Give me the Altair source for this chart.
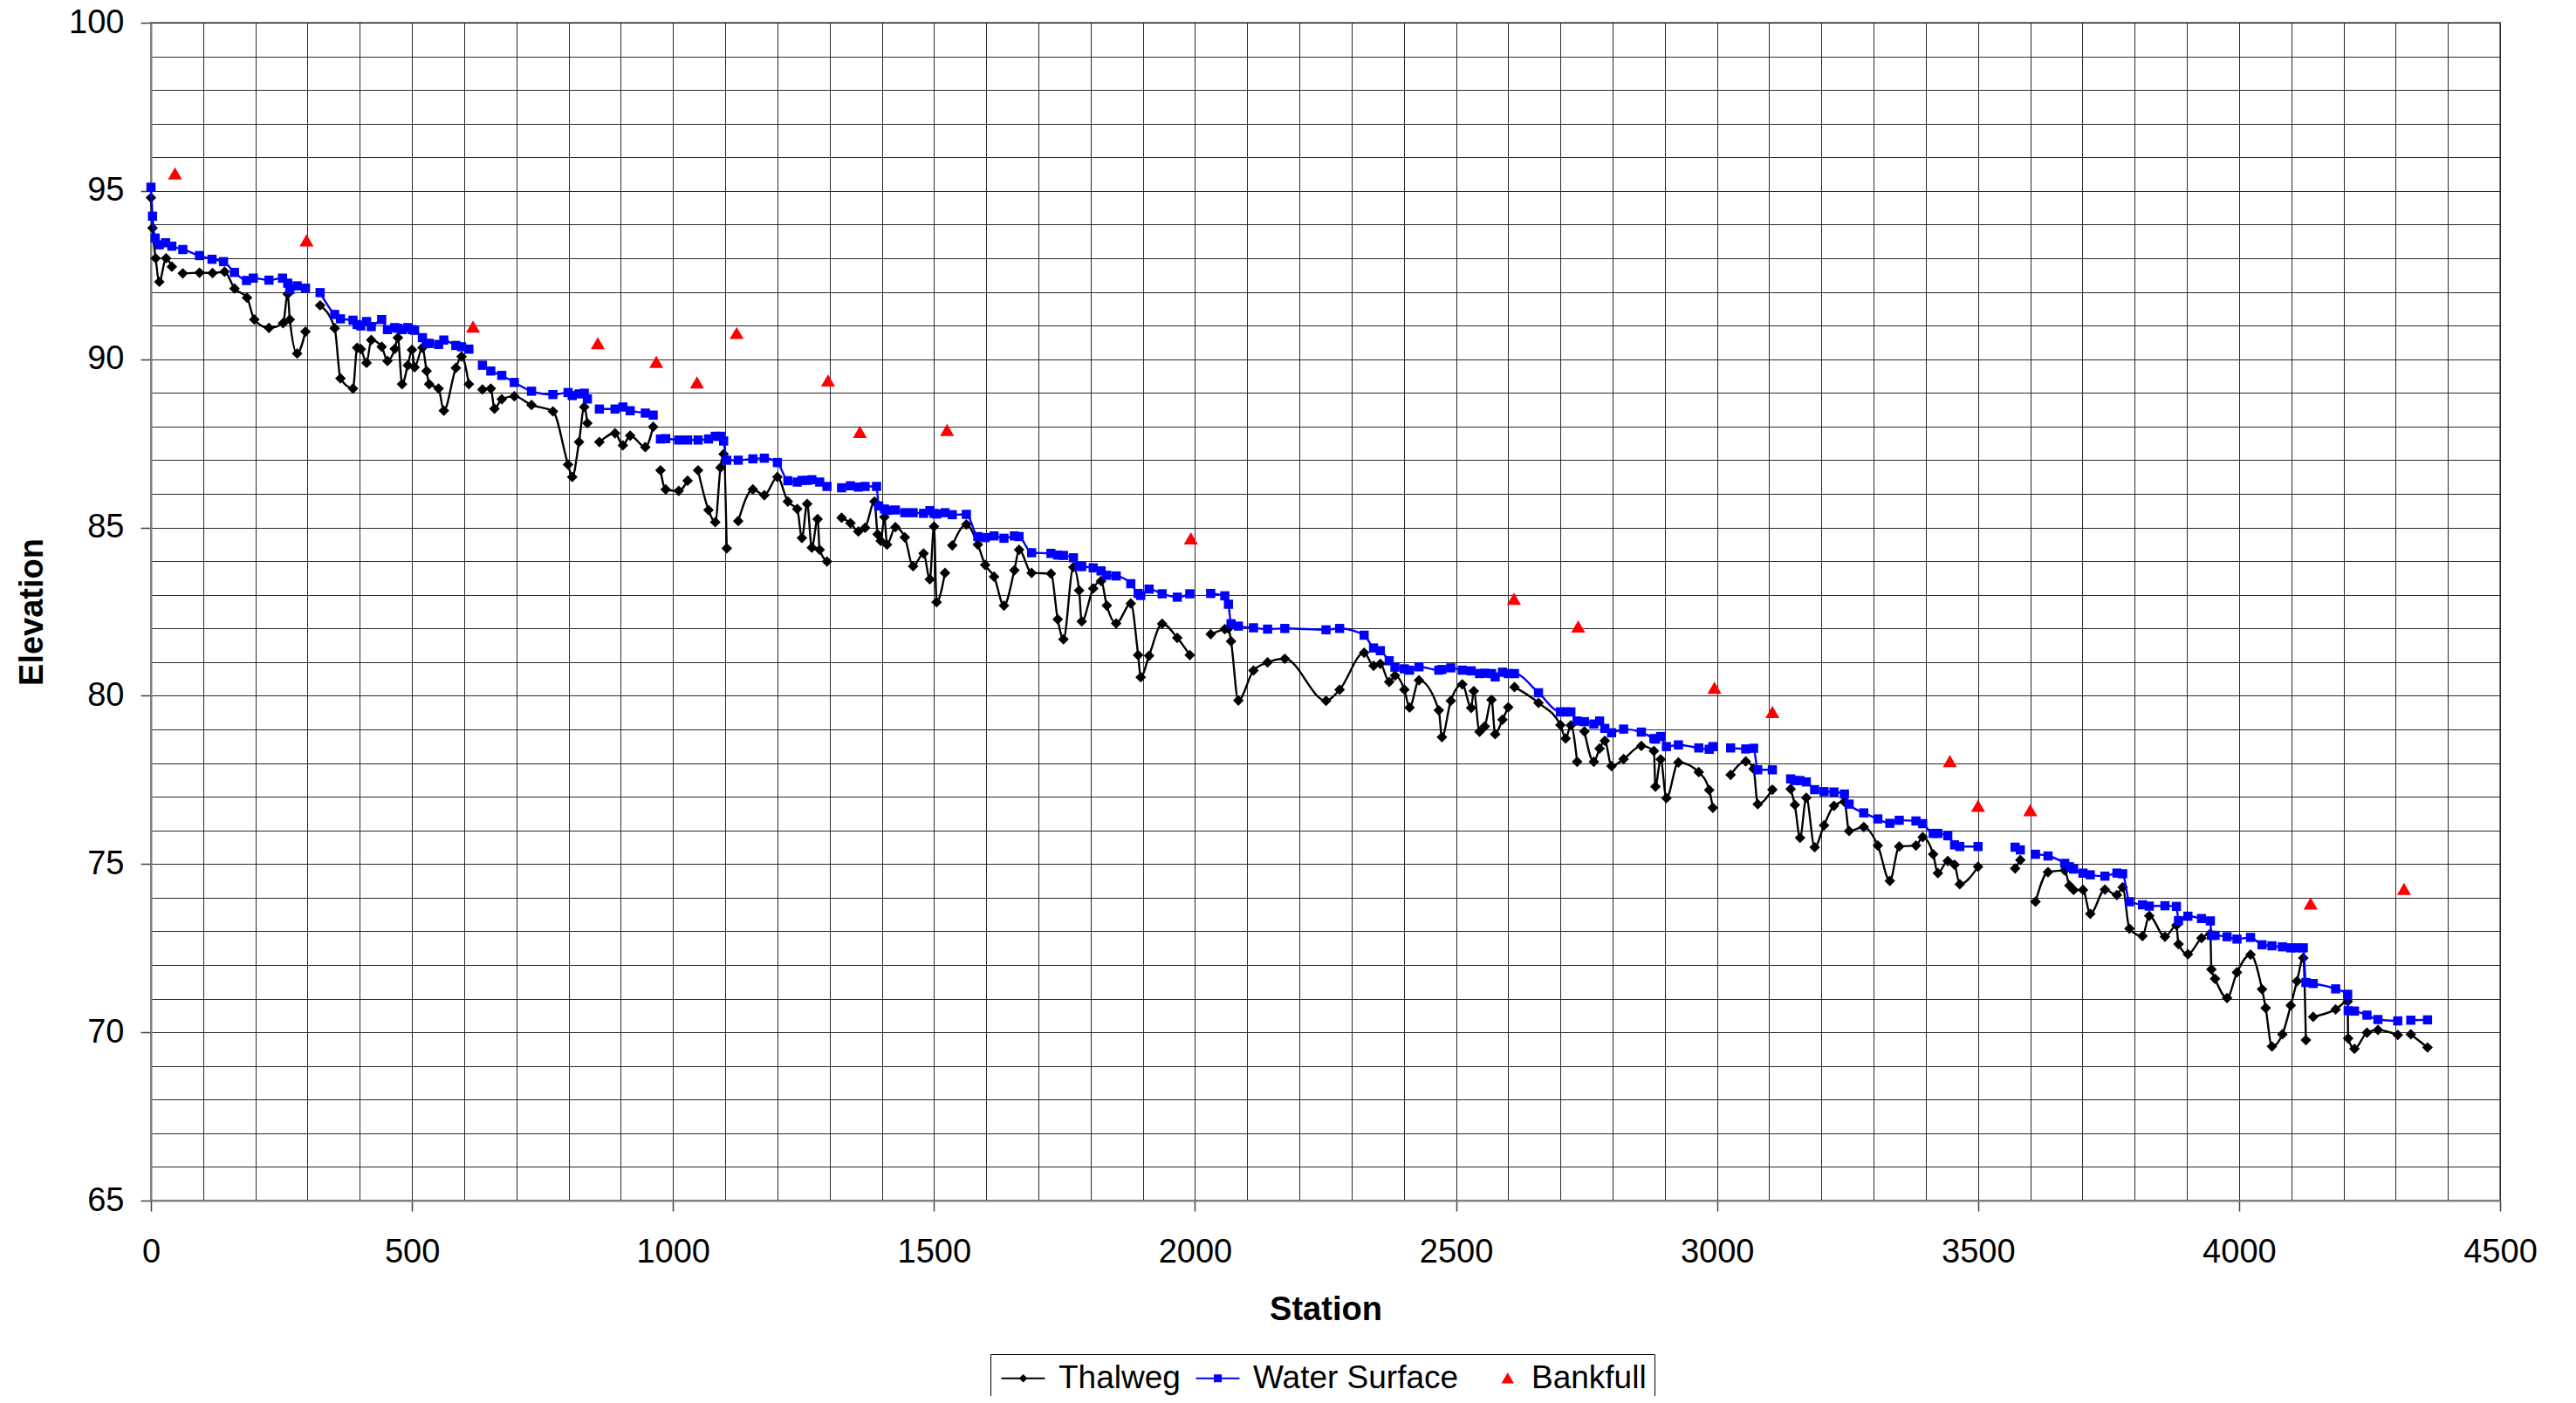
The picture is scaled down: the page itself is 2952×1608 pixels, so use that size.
import altair as alt
import pandas as pd

# ---------------- data ----------------
thalweg_station = [0, 3, 9, 16, 29, 40, None,
    61, 93, 118, 141, 160, 184, 198, 226, 253, 262, 266, 280, 296, None,
    324, 352, 363, 387, 395, 402, 413, 422, 442, 453, 467, 473, 481, 492, 500, 505, 520, 528, 533, 551, 561, 584, 595, 609, None,
    635, 651, 658, 672, 696, 729, 770, 799, 807, 820, 830, 836, None,
    859, 889, 904, 918, 947, 962, None,
    976, 986, 1011, 1028, None,
    1048, 1068, 1081, 1091, 1097, 1103, None,
    1125, 1153, 1175, 1200, 1220, 1238, 1247, 1257, 1266, 1277, 1281, 1295, None,
    1323, 1340, 1355, 1368, 1386, 1392, 1398, 1405, 1410, 1426, 1444, 1460, 1480, 1492, 1500, 1505, 1521, None,
    1535, 1562, 1584, 1598, 1615, 1634, 1654, 1663, 1687, 1724, 1737, 1748, 1767, 1778, 1783, 1805, 1820, 1831, 1849, 1877,
    1891, 1896, 1912, 1937, 1966, 1990, None,
    2030, 2057, 2064, 2069, 2083, 2112, 2139, 2172, 2251, 2277, 2324, 2342, 2355, 2372, 2383, 2401, 2411, 2429, 2467, 2473,
    2490, 2512, 2529, 2534, 2545, 2555, 2568, 2575, 2589, 2600, None,
    2612, 2658, 2700, 2710, 2720, 2732, None,
    2746, 2764, 2775, 2785, 2798, 2821, 2855, 2879, 2882, 2892, 2903, 2926, 2965, 2985, 2992, None,
    3026, 3055, 3070, 3078, 3106, None,
    3141, 3149, 3159, 3171, 3187, 3205, 3224, 3244, 3253, 3281, 3308, 3331, 3349, 3381, 3394, 3414, 3423, 3442, 3455, 3465, 3500, None,
    3571, 3581, None,
    3610, 3634, 3666, 3675, 3683, 3701, 3715, 3743, 3766, 3777, 3790, 3815, 3828, 3858, 3880, 3884, 3902, 3928, 3945, 3947,
    3954, 3977, 3996, 4022, 4044, 4051, 4063, 4083, 4099, 4111, 4123, 4128, None,
    4142, 4185, 4208, 4209, 4221, 4245, 4266, 4304, None,
    4329, 4361]

thalweg_elev = [94.8, 93.9, 93.0, 92.3, 93.0, 92.75, None,
    92.55, 92.57, 92.56, 92.6, 92.1, 91.83, 91.18, 90.93, 91.07, 91.94, 91.18, 90.17, 90.82, None,
    91.6, 90.92, 89.43, 89.13, 90.34, 90.3, 89.89, 90.57, 90.37, 89.95, 90.31, 90.64, 89.26, 89.82, 90.28, 89.76, 90.34, 89.65, 89.26, 89.13, 88.47, 89.74, 90.08, 89.26, None,
    89.1, 89.13, 88.53, 88.81, 88.9, 88.64, 88.45, 86.87, 86.5, 87.54, 88.58, 88.1, None,
    87.54, 87.8, 87.44, 87.73, 87.39, 87.99, None,
    86.7, 86.13, 86.09, 86.39, None,
    86.7, 85.52, 85.16, 86.78, 87.18, 84.38, None,
    85.19, 86.13, 85.96, 86.5, 85.77, 85.55, 84.69, 85.7, 84.4, 85.25, 84.34, 83.99, None,
    85.29, 85.13, 84.88, 84.99, 85.77, 84.8, 84.6, 85.31, 84.49, 85.01, 84.71, 83.85, 84.23, 83.46, 85.03, 82.78, 83.65, None,
    84.47, 85.09, 84.49, 83.89, 83.54, 82.68, 83.73, 84.34, 83.65, 83.63, 82.27, 81.68, 83.82, 83.13, 82.21, 83.19, 83.41, 82.68, 82.15, 82.74,
    81.21, 80.55, 81.19, 82.14, 81.72, 81.21, None,
    81.83, 81.98, 82.0, 81.62, 79.86, 80.75, 80.99, 81.1, 79.85, 80.18, 81.28, 80.89, 80.95, 80.41, 80.6, 80.18, 79.65, 80.46, 79.57, 78.77,
    79.85, 80.34, 79.64, 80.14, 78.93, 79.09, 79.88, 78.86, 79.29, 79.66, None,
    80.26, 79.79, 79.13, 78.73, 79.12, 78.04, None,
    78.94, 78.04, 78.43, 78.66, 77.91, 78.12, 78.51, 78.36, 77.3, 78.11, 76.96, 78.02, 77.73, 77.2, 76.67, None,
    77.65, 78.05, 77.83, 76.78, 77.21, None,
    77.23, 76.76, 75.78, 76.97, 75.5, 76.15, 76.73, 76.85, 75.98, 76.1, 75.55, 74.5, 75.52, 75.55, 75.8, 75.29, 74.73, 75.09, 74.98, 74.4, 74.92, None,
    74.87, 75.12, None,
    73.88, 74.76, 74.81, 74.36, 74.23, 74.23, 73.52, 74.24, 74.08, 74.31, 73.08, 72.86, 73.46, 72.84, 73.18, 72.62, 72.32, 72.8, 72.93, 71.87,
    71.59, 71.02, 71.78, 72.31, 71.28, 70.72, 69.58, 69.94, 70.8, 71.52, 72.21, 69.77, None,
    70.46, 70.68, 70.92, 69.82, 69.51, 69.99, 70.07, 69.92, None,
    69.94, 69.55]

water_station = [0, 3, 8, 16, 28, 40, 61, 93, 117, 139, 160, 183, 196, 226, 252, 262, 266, 280, 296, None,
    324, 352, 363, 387, 395, 402, 413, 422, 442, 453, 467, 473, 481, 492, 500, 505, 520, 528, 533, 551, 561, 584, 595, 609, None,
    635, 651, 672, 696, 729, 770, 799, 807, 820, 830, 836, None,
    859, 889, 904, 918, 947, 962, None,
    976, 986, 1011, 1028, 1048, 1068, 1081, 1091, 1097, 1103, 1125, 1153, 1175, 1200, 1220, 1238, 1247, 1257, 1266, 1281, 1295, None,
    1323, 1340, 1355, 1368, 1390, 1394, 1405, 1410, 1426, 1444, 1460, 1480, 1492, 1500, 1505, 1521, 1535, 1562, 1584, 1598,
    1615, 1634, 1654, 1663, 1687, 1724, 1737, 1748, 1767, 1778, 1783, 1805, 1820, 1831, 1849, 1877, 1891, 1896, 1912, 1937,
    1966, 1990, None,
    2030, 2057, 2064, 2069, 2083, 2112, 2139, 2172, 2251, 2277, 2324, 2342, 2355, 2372, 2383, 2401, 2411, 2429, 2467, 2473,
    2490, 2512, 2529, 2545, 2555, 2568, 2575, 2589, 2600, 2612, 2658, 2700, 2710, 2720, 2732, 2746, 2764, 2775, 2785, 2798,
    2821, 2855, 2879, 2882, 2892, 2903, 2926, 2965, 2985, 2992, None,
    3026, 3055, 3070, 3078, 3106, None,
    3141, 3149, 3159, 3171, 3187, 3205, 3224, 3244, 3253, 3281, 3308, 3331, 3349, 3381, 3394, 3414, 3423, 3442, 3455, 3465, 3500, None,
    3571, 3581, None,
    3610, 3634, 3666, 3675, 3683, 3701, 3715, 3743, 3766, 3777, 3790, 3815, 3828, 3858, 3880, 3884, 3902, 3928, 3945, 3947,
    3954, 3977, 3996, 4022, 4044, 4063, 4083, 4099, 4111, 4123, 4128, 4142, 4185, 4208, 4209, 4221, 4245, 4266, 4304, None,
    4329, 4361]

water_elev = [95.11, 94.25, 93.6, 93.4, 93.46, 93.36, 93.26, 93.08, 92.97, 92.9, 92.58, 92.34, 92.41, 92.35, 92.41, 92.26, 92.07, 92.18, 92.11, None,
    91.98, 91.33, 91.2, 91.16, 91.03, 90.99, 91.12, 90.97, 91.18, 90.88, 90.94, 90.92, 90.88, 90.94, 90.88, 90.86, 90.64, 90.47, 90.47, 90.44, 90.57, 90.41, 90.37, 90.3, None,
    89.82, 89.65, 89.52, 89.31, 89.05, 88.95, 89.01, 88.92, 88.97, 88.99, 88.82, None,
    88.52, 88.52, 88.58, 88.47, 88.4, 88.34, None,
    87.63, 87.64, 87.6, 87.6, 87.6, 87.63, 87.71, 87.71, 87.57, 87.0, 87.0, 87.04, 87.06, 86.93, 86.39, 86.35, 86.4, 86.4, 86.42, 86.35, 86.22, None,
    86.18, 86.24, 86.2, 86.22, 86.22, 85.64, 85.55, 85.51, 85.52, 85.44, 85.44, 85.42, 85.5, 85.42, 85.4, 85.44, 85.38, 85.39, 84.73, 84.7,
    84.75, 84.68, 84.75, 84.73, 84.25, 84.23, 84.18, 84.17, 84.1, 83.85, 83.84, 83.8, 83.71, 83.58, 83.56, 83.33, 83.04, 82.98, 83.17, 83.03,
    82.93, 83.03, None,
    83.04, 82.97, 82.72, 82.14, 82.07, 82.02, 81.98, 82.0, 81.96, 82.0, 81.8, 81.42, 81.34, 81.04, 80.85, 80.8, 80.76, 80.86, 80.76, 80.78,
    80.83, 80.76, 80.74, 80.66, 80.67, 80.66, 80.56, 80.7, 80.66, 80.66, 80.09, 79.52, 79.52, 79.52, 79.25, 79.23, 79.16, 79.25, 79.03, 78.9,
    79.01, 78.92, 78.73, 78.71, 78.79, 78.49, 78.54, 78.45, 78.41, 78.49, None,
    78.45, 78.42, 78.44, 77.8, 77.8, None,
    77.53, 77.48, 77.48, 77.44, 77.21, 77.15, 77.14, 77.08, 76.78, 76.52, 76.34, 76.21, 76.3, 76.28, 76.2, 75.91, 75.91, 75.84, 75.57, 75.52, 75.52, None,
    75.5, 75.42, None,
    75.29, 75.24, 75.02, 74.92, 74.85, 74.73, 74.68, 74.64, 74.73, 74.71, 73.88, 73.79, 73.75, 73.76, 73.74, 73.32, 73.45, 73.38, 73.31, 72.88,
    72.88, 72.84, 72.77, 72.82, 72.6, 72.57, 72.54, 72.51, 72.51, 72.51, 71.48, 71.45, 71.29, 71.13, 70.64, 70.63, 70.51, 70.38, 70.34, None,
    70.36, 70.37]

bankfull_station = [46, 298, 617, 856, 968, 1046, 1122, 1297, 1358, 1525, 1992, 2611, 2734, 2995, 3106, 3446, 3500, 3600, 4137, 4316]
bankfull_elev = [95.52, 93.53, 90.97, 90.48, 89.92, 89.31, 90.78, 89.37, 87.84, 87.9, 84.68, 82.88, 82.06, 80.24, 79.52, 78.06, 76.73, 76.6, 73.83, 74.26]

series_names = ["Thalweg", "Water Surface", "Bankfull"]
series_colors = ["#000000", "#0000FF", "#FF0000"]
x_ticks = list(range(0, 4501, 100))
y_ticks = list(range(65, 101, 1))

assert len(thalweg_station) == len(thalweg_elev)
assert len(water_station) == len(water_elev)


def to_frame(st, el):
    rows, seg = [], 0
    for s, e in zip(st, el):
        if s is None or e is None:
            seg += 1
            continue
        rows.append({"station": s, "elev": e, "seg": seg})
    return pd.DataFrame(rows)


thal_df = to_frame(thalweg_station, thalweg_elev)
water_df = to_frame(water_station, water_elev)
bank_df = pd.DataFrame({"station": bankfull_station, "elev": bankfull_elev})
legend_df = pd.DataFrame({"series": series_names})

FONT = "Liberation Sans"

x_axis = alt.Axis(
    values=x_ticks, format="d",
    labelExpr="datum.value % 500 === 0 ? datum.label : ''",
    labelOverlap=False, labelFlush=False,
    labelFont=FONT, labelFontSize=38, labelColor="black",
    labelBaseline="top", labelPadding=28,
    tickSize=12, tickWidth=1.5,
    tickColor={"condition": {"test": "datum.value % 500 === 0", "value": "#404040"}, "value": "transparent"},
    grid=True, gridColor="#2a2a2a", gridWidth=1,
    domainColor="#808080", domainWidth=2,
    title="Station", titleFont=FONT, titleFontSize=38, titleFontWeight="bold", titleColor="black",
    titleX=1346, titleY=136, titleAlign="center", titleBaseline="alphabetic",
)
y_axis = alt.Axis(
    values=y_ticks, format="d",
    labelExpr="datum.value % 5 === 0 ? datum.label : ''",
    labelOverlap=False, labelFlush=False,
    labelFont=FONT, labelFontSize=38, labelColor="black",
    labelPadding=19,
    tickSize=12, tickWidth=1.5,
    tickColor={"condition": {"test": "datum.value % 5 === 0", "value": "#404040"}, "value": "transparent"},
    grid=True, gridColor="#2a2a2a", gridWidth=1,
    domainColor="#808080", domainWidth=2,
    title="Elevation", titleFont=FONT, titleFontSize=38, titleFontWeight="bold", titleColor="black",
    titleX=-136, titleY=675, titleAngle=270, titleAlign="center", titleBaseline="middle",
)

x_enc = alt.X("station:Q", scale=alt.Scale(domain=[0, 4500], nice=False, zero=False), axis=x_axis)
y_enc = alt.Y("elev:Q", scale=alt.Scale(domain=[65, 100], nice=False, zero=False), axis=y_axis)

thal_line = alt.Chart(thal_df).mark_line(color="black", strokeWidth=2.4, interpolate="monotone").encode(
    x=x_enc, y=y_enc, detail="seg:N")
thal_pts = alt.Chart(thal_df).mark_point(shape="diamond", filled=True, color="black", size=150, opacity=1).encode(
    x=x_enc, y=y_enc)
water_line = alt.Chart(water_df).mark_line(color="#0000FF", strokeWidth=2.4, interpolate="monotone").encode(
    x=x_enc, y=y_enc, detail="seg:N")
water_pts = alt.Chart(water_df).mark_point(shape="square", filled=True, color="#0000FF", size=110, opacity=1).encode(
    x=x_enc, y=y_enc)
bank_pts = alt.Chart(bank_df).mark_point(shape="triangle-up", filled=True, color="#FF0000", size=260, opacity=1).encode(
    x=x_enc, y=y_enc)

# legend symbols: unit = 15 px (symbolSize 900); line spans 50 px starting at the symbol's left edge
legend_paths = [
    "M-1,-0.07H2.33V0.07H-1Z M0.67,-0.32L0.99,0L0.67,0.32L0.35,0Z",
    "M-1,-0.07H2.33V0.07H-1Z M0.37,-0.3H0.97V0.3H0.37Z",
    "M1.55,-0.45L2.03,0.38H1.07Z",
]
leg = alt.Legend(
    title=None, orient="none", legendX=962, legendY=1526, direction="horizontal",
    strokeColor="#000000", fillColor="white", padding=9,
    labelFont=FONT, labelFontSize=37, labelColor="black", labelLimit=500, labelOffset=32,
    columnPadding=14, symbolSize=900, symbolStrokeWidth=0, symbolOpacity=1,
)
legend_layer = alt.Chart(legend_df).mark_point(filled=True, clip=True, opacity=1).encode(
    x=alt.value(0), y=alt.value(-2000),
    color=alt.Color("series:N", scale=alt.Scale(domain=series_names, range=series_colors), legend=leg),
    shape=alt.Shape("series:N", scale=alt.Scale(domain=series_names, range=legend_paths), legend=leg),
)

chart = alt.layer(thal_line, thal_pts, water_line, water_pts, bank_pts, legend_layer).properties(
    width=2692, height=1350,
    padding={"left": 165, "top": 18, "right": 79, "bottom": 224},
    autosize=alt.AutoSizeParams(type="none"),
    background="white",
).configure_view(stroke="#808080", strokeWidth=2)

chart.save("out.html", embed_options={"renderer": "svg", "actions": False})
